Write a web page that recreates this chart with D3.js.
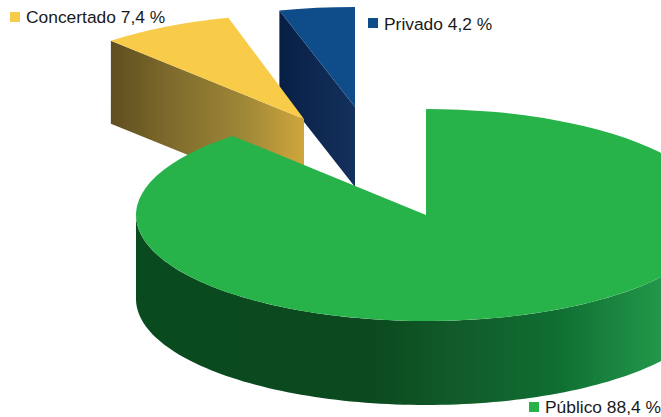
<!DOCTYPE html>
<html><head><meta charset="utf-8">
<script src="https://cdn.jsdelivr.net/npm/d3@7/dist/d3.min.js"></script>
<style>html,body{margin:0;padding:0;background:#fff;overflow:hidden}svg{display:block}text{font-family:"Liberation Sans",Arial,sans-serif;font-size:17.4px;fill:#1a1a1a}</style>
</head><body><svg id="c" width="661" height="417"></svg>
<script>
const categories = ["Público", "Concertado", "Privado"];
const values = [88.4, 7.4, 4.2];
const labels = ["Público 88,4 %", "Concertado 7,4 %", "Privado 4,2 %"];
const topColors = ["#27b34a", "#f8cb49", "#0f4c8a"];

const layout = [
  {cx:426, cy:215, rx:290, ry:106, depth:84, lx:529, ly:402, tb:413, stops:[[0,"#0a4a1f"],[.45,"#0b4a1e"],[.62,"#125c2a"],[.8,"#0f6e32"],[1,"#22974a"]], x0:136, x1:661},
  {cx:304, cy:119, rx:290, ry:105, depth:83, lx:10, ly:12, tb:23, stops:[[0,"#5f4e20"],[.3,"#7d6a2c"],[.7,"#a08838"],[1,"#d0a63c"]], x0:111, x1:304},
  {cx:355, cy:107, rx:290, ry:100, depth:80, lx:368, ly:18, tb:30, stops:[[0,"#071f45"],[1,"#14315c"]], x0:279, x1:355}
];

const svg = d3.select("#c");
const defs = svg.append("defs");
const arcs = d3.pie().sort(null).startAngle(0).endAngle(2*Math.PI)(values);
const topArc = d3.arc().innerRadius(0);

layout.forEach((l,i)=>{
  const g = defs.append("linearGradient").attr("id","w"+i).attr("gradientUnits","userSpaceOnUse")
    .attr("x1",l.x0).attr("x2",l.x1).attr("y1",0).attr("y2",0);
  l.stops.forEach(s=>g.append("stop").attr("offset",s[0]).attr("stop-color",s[1]));
});

// Draw back-to-front: Privado, Concertado, Público
[2,1,0].forEach(i=>{
  const a = arcs[i], l = layout[i];
  const px = t=>l.cx + l.rx*Math.sin(t), py = t=>l.cy - l.ry*Math.cos(t);
  const g = svg.append("g");
  const fill = `url(#w${i})`;
  // outer rim wall, only where the rim faces the viewer
  const s = Math.max(a.startAngle, Math.PI/2), e = Math.min(a.endAngle, 3*Math.PI/2);
  if (e > s) {
    const ts = d3.range(s, e, (e-s)/120).concat([e]);
    g.append("path").attr("fill",fill).attr("d",
      d3.area().x(px).y0(py).y1(t=>py(t)+l.depth)(ts));
  }
  // cut wall of the wedges facing the viewer
  if (i > 0) {
    const t = a.startAngle;
    g.append("path").attr("fill",fill).attr("d", d3.line()([
      [px(t),py(t)],[l.cx,l.cy],[l.cx,l.cy+l.depth],[px(t),py(t)+l.depth]
    ])+"Z");
  }
  // top face
  g.append("path")
    .attr("transform",`translate(${l.cx},${l.cy}) scale(1,${l.ry/l.rx})`)
    .attr("fill",topColors[i])
    .attr("d",topArc.outerRadius(l.rx)({startAngle:a.startAngle,endAngle:a.endAngle}));
});

// legend
layout.forEach((l,i)=>{
  svg.append("rect").attr("x",l.lx).attr("y",l.ly).attr("width",10).attr("height",10).attr("fill",topColors[i]);
  svg.append("text").attr("x",l.lx+16).attr("y",l.tb).text(labels[i]);
});
</script></body></html>
